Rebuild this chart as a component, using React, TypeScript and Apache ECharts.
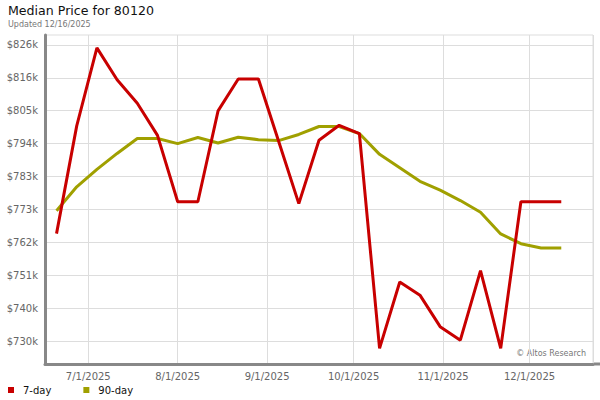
import React, { useEffect, useRef } from "react";
import * as echarts from "echarts";

// Weekly dates (Fridays), 2025
const dates: string[] = [
  "2025-06-20", "2025-06-27", "2025-07-04", "2025-07-11", "2025-07-18", "2025-07-25",
  "2025-08-01", "2025-08-08", "2025-08-15", "2025-08-22", "2025-08-29",
  "2025-09-05", "2025-09-12", "2025-09-19", "2025-09-26",
  "2025-10-03", "2025-10-10", "2025-10-17", "2025-10-24", "2025-10-31",
  "2025-11-07", "2025-11-14", "2025-11-21", "2025-11-28",
  "2025-12-05", "2025-12-12",
];

// Median price, in $k
const sevenDay: number[] = [
  764.7, 799.9, 825.4, 815.0, 807.3, 796.8,
  775.1, 775.1, 804.8, 815.2, 815.2,
  794.9, 774.5, 795.2, 800.1,
  797.4, 727.2, 748.9, 744.6, 734.3,
  729.9, 752.6, 727.2, 775.1,
  775.1, 775.1,
];
const ninetyDay: number[] = [
  772.2, 780.0, 785.7, 790.9, 795.8, 795.8,
  794.1, 796.1, 794.3, 796.2, 795.4,
  795.1, 797.1, 799.7, 799.7,
  797.4, 790.6, 786.2, 781.8, 778.9,
  775.5, 771.7, 764.6, 761.4,
  760.0, 760.0,
];

// y tick values ($k) and their labels
const yTickValues: number[] = [729.6, 740.35, 751.1, 761.85, 772.6, 783.35, 794.1, 804.85, 815.6, 826.35];
const yTickLabels: string[] = [
  "$730k", "$740k", "$751k", "$762k", "$773k", "$783k", "$794k", "$805k", "$816k", "$826k",
];
const Y_MIN = 722.1;
const Y_MAX = 829.6;

const toMs = (s: string) => {
  const [y, m, d] = s.split("-").map(Number);
  return Date.UTC(y, m - 1, d);
};

export default function App() {
  const ref = useRef<HTMLDivElement>(null);

  useEffect(() => {
    if (!ref.current) return;
    const chart = echarts.init(ref.current, undefined, { renderer: "svg" });
    const font = "DejaVu Sans";
    chart.setOption({
      animation: false,
      useUTC: true,
      textStyle: { fontFamily: font },
      title: {
        text: "Median Price for 80120",
        subtext: "Updated 12/16/2025",
        left: 3,
        top: 1,
        itemGap: 3,
        padding: [3, 5, 0, 5],
        textStyle: { fontSize: 12.6, fontWeight: "normal", color: "#111", fontFamily: font },
        subtextStyle: { fontSize: 8, color: "#777", fontFamily: font },
      },
      legend: {
        data: ["7-day", "90-day"],
        left: 3,
        top: 380,
        icon: "rect",
        itemWidth: 6,
        itemHeight: 6,
        itemGap: 32,
        textStyle: { fontSize: 10, color: "#111", fontFamily: font, padding: [0, 0, 0, 4] },
      },
      grid: {
        left: 45,
        right: 7,
        top: 35,
        bottom: 36,
        show: true,
        borderColor: "#ddd",
        borderWidth: 1,
        containLabel: false,
      },
      xAxis: {
        type: "time",
        min: Date.UTC(2025, 5, 16),
        max: Date.UTC(2025, 11, 23),
        minInterval: 28 * 86400000,
        maxInterval: 31 * 86400000,
        axisLine: { show: true, onZero: false, lineStyle: { color: "#888", width: 3 } },
        axisTick: { show: false },
        splitLine: { show: true, lineStyle: { color: "#ddd", width: 1 } },
        axisLabel: {
          color: "#666",
          fontSize: 10,
          margin: 7,
          fontFamily: font,
          showMinLabel: false,
          showMaxLabel: false,
          hideOverlap: false,
          formatter: (v: number) => {
            const d = new Date(v);
            if (d.getUTCDate() !== 1) return "";
            return `${d.getUTCMonth() + 1}/1/${d.getUTCFullYear()}`;
          },
        },
      },
      yAxis: {
        type: "value",
        min: Y_MIN,
        max: Y_MAX,
        axisLine: { show: true, lineStyle: { color: "#888", width: 3 } },
        axisTick: { show: false, customValues: yTickValues },
        splitLine: { show: true, lineStyle: { color: "#ddd", width: 1 } },
        axisLabel: {
          color: "#666",
          fontSize: 10,
          margin: 7,
          fontFamily: font,
          customValues: yTickValues,
          formatter: (v: number) => {
            let best = -1;
            let bd = 1e9;
            yTickValues.forEach((t, i) => {
              const d = Math.abs(t - v);
              if (d < bd) { bd = d; best = i; }
            });
            return bd < 0.01 ? yTickLabels[best] : "";
          },
        },
      },
      graphic: [
        {
          type: "rect",
          shape: { x: 593, y: 362.5, width: 7, height: 3 },
          style: { fill: "#888" },
          silent: true,
        },
        {
          type: "text",
          right: 14,
          top: 349,
          style: { text: "© Altos Research", fontSize: 8, fill: "#777", fontFamily: font },
          silent: true,
        },
      ],
      series: [
        {
          name: "90-day",
          type: "line",
          data: dates.map((d, i) => [toMs(d), ninetyDay[i]]),
          showSymbol: false,
          symbol: "none",
          lineStyle: { color: "#a0a000", width: 3 },
          itemStyle: { color: "#a0a000" },
          z: 2,
        },
        {
          name: "7-day",
          type: "line",
          data: dates.map((d, i) => [toMs(d), sevenDay[i]]),
          showSymbol: false,
          symbol: "none",
          lineStyle: { color: "#c80000", width: 3 },
          itemStyle: { color: "#c80000" },
          z: 3,
        },
      ],
    });
    return () => chart.dispose();
  }, []);

  return <div ref={ref} style={{ width: 600, height: 400, position: "absolute", left: 0, top: 0 }} />;
}
